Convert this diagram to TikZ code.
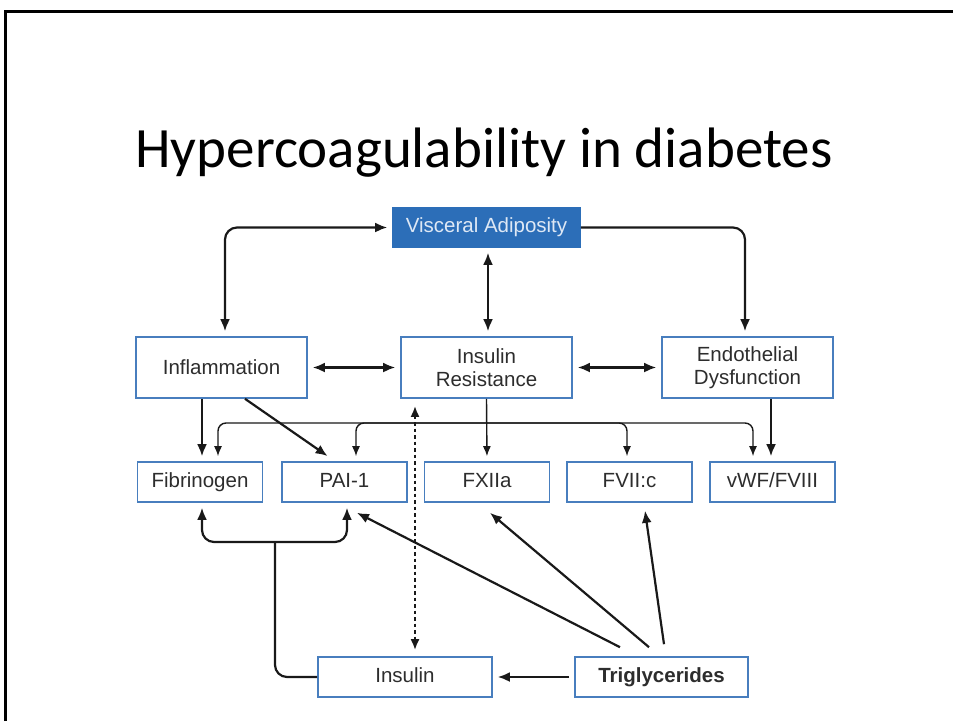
\documentclass[tikz,border=0pt]{standalone}
\usepackage{fontspec}
\setmainfont{Liberation Sans}
\newfontfamily\titlefont{Carlito}
\usetikzlibrary{arrows.meta,shapes,positioning}
\usetikzlibrary{calc}

\definecolor{boxblue}{RGB}{72,126,190}
\definecolor{vablue}{RGB}{44,110,184}
\definecolor{vatext}{RGB}{222,232,245}
\definecolor{labelgray}{RGB}{45,45,45}
\definecolor{linegray}{RGB}{25,25,25}

\tikzstyle{block} = [
  rectangle, draw=boxblue, line width=1.6pt, fill=white, text=labelgray,
  align=center, font=\fontsize{20.5}{23}\selectfont, inner sep=2pt
]
\tikzstyle{bigblock} = [block, minimum width=171pt, minimum height=61pt]
\tikzstyle{smallblock} = [block, minimum width=125pt, minimum height=40pt, text height=14pt, text depth=4pt]
\tikzstyle{link} = [draw=linegray, line width=2.2pt]
\tikzstyle{onearrow} = [link, -{Latex[length=12pt,width=10pt]}, shorten >=5pt]
\tikzstyle{twoarrow} = [link, {Latex[length=12pt,width=10pt]}-{Latex[length=12pt,width=10pt]}, shorten >=5pt, shorten <=5pt]
\tikzstyle{thinarrow} = [draw=linegray, line width=1.4pt, -{Latex[length=10pt,width=8pt]}, shorten >=5pt]

\begin{document}
\begin{tikzpicture}[x=1pt, y=-1pt]
    \useasboundingbox (0,0) rectangle (953,721);
    % slide frame
    \draw[line width=2.5pt] (5.5,721) -- (5.5,11.5) -- (953,11.5);

    \node[anchor=base, font=\titlefont\fontsize{57}{60}\selectfont] (title) at (484,167) {Hypercoagulability in diabetes};

    % top and middle row
    \node[block, draw=vablue, fill=vablue, text=vatext, minimum width=187pt, minimum height=39pt] (adipo) at (486.5,227.5) {Visceral Adiposity};
    \node[bigblock] (inflam) at (221.5,367.5) {Inflammation};
    \node[bigblock] (insres) at (486.5,367.5) {Insulin\\Resistance};
    \node[bigblock] (endo) at (747.5,367.5) {Endothelial\\Dysfunction};

    % factors
    \node[smallblock] (fibr) at (200,482) {Fibrinogen};
    \node[smallblock] (pai) at (344.5,482) {PAI-1};
    \node[smallblock] (fxii) at (487,482) {FXIIa};
    \node[smallblock] (fvii) at (629.5,482) {FVII:c};
    \node[smallblock] (vwf) at (772.5,482) {vWF/FVIII};

    % bottom row
    \node[smallblock, minimum width=174pt] (insulin) at (405,677) {Insulin};
    \node[smallblock, minimum width=173pt, font=\fontsize{20.5}{23}\selectfont\bfseries] (trigly) at (661.5,677) {Triglycerides};

    \coordinate (bus) at (487,423);
    \coordinate (split) at (275,542);

    % adiposity links
    \draw[twoarrow, rounded corners=12pt] (adipo.west) -| ([xshift=3.5pt]inflam.north);
    \draw[onearrow, rounded corners=12pt] (adipo.east) -| ([xshift=-2.5pt]endo.north);
    \draw[twoarrow] ([xshift=1.5pt]adipo.south) -- ([xshift=1.5pt]insres.north);
    \draw[twoarrow] (inflam.east) -- (insres.west);
    \draw[twoarrow] (insres.east) -- (endo.west);

    % middle row to factors
    \draw[onearrow] ([xshift=-19.5pt]inflam.south) -- ([xshift=-19.5pt]inflam.south |- fibr.north);
    \draw[onearrow, shorten >=9pt] ([xshift=23.5pt]inflam.south) -- ([xshift=-9.5pt]pai.north);
    \draw[thinarrow] (insres.south) -- (fxii.north);
    \draw[onearrow] ([xshift=23.5pt]endo.south) -- ([xshift=23.5pt]endo.south |- vwf.north);
    \draw[thinarrow, rounded corners=8pt] (bus) -| ([xshift=18pt]fibr.north);
    \draw[thinarrow, rounded corners=8pt] (bus) -| ([xshift=11.5pt]pai.north);
    \draw[thinarrow, rounded corners=8pt] (bus) -| ([xshift=-2.5pt]fvii.north);
    \draw[thinarrow, rounded corners=8pt] (bus) -| ([xshift=-19.5pt]vwf.north);

    % insulin resistance <-> insulin
    \draw[draw=linegray, line width=2.2pt, dash pattern=on 3.5pt off 3pt,
      {Latex[length=11pt,width=9pt]}-{Latex[length=11pt,width=9pt]}, shorten >=6pt, shorten <=7pt]
      ([xshift=-71.5pt]insres.south) -- ([xshift=-71.5pt]insres.south |- insulin.north);

    % insulin to fibrinogen and PAI-1
    \draw[link, rounded corners=12pt] (insulin.west) -| (split);
    \draw[twoarrow, rounded corners=12pt] ([xshift=2pt]fibr.south) |- (split) -| ([xshift=2.5pt]pai.south);

    % triglycerides
    \draw[onearrow, shorten <=5pt] (trigly.west) -- (insulin.east);
    \draw[onearrow, shorten >=0pt] ([xshift=-41.5pt,yshift=9pt]trigly.north) -- ([xshift=12.5pt,yshift=-10pt]pai.south);
    \draw[onearrow, shorten >=0pt] ([xshift=-12.5pt,yshift=9pt]trigly.north) -- ([xshift=3pt,yshift=-10pt]fxii.south);
    \draw[onearrow, shorten >=0pt] ([xshift=2.5pt,yshift=12pt]trigly.north) -- ([xshift=15.5pt,yshift=-8pt]fvii.south);
\end{tikzpicture}
\end{document}
